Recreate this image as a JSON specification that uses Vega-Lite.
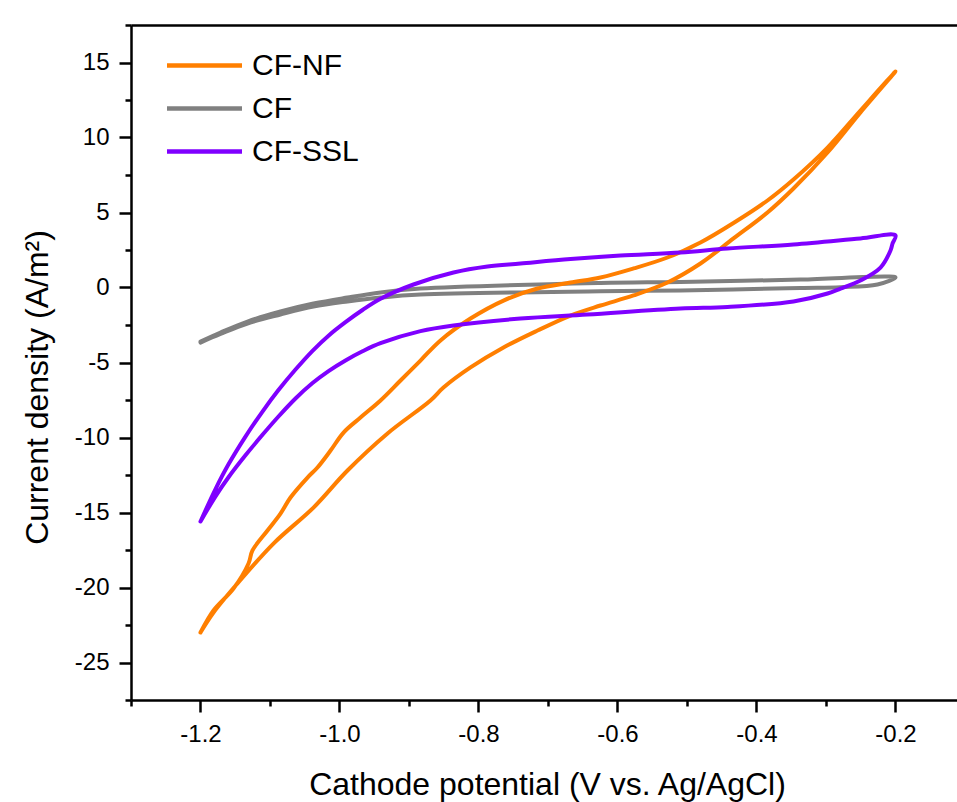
{
  "$schema": "https://vega.github.io/schema/vega-lite/v6.json",
  "width": 826,
  "height": 675,
  "autosize": {"type": "none"},
  "padding": {"left": 131, "top": 25, "right": 0, "bottom": 102},
  "background": "white",
  "config": {"view": {"stroke": null}, "font": "Liberation Sans"},
  "data": {
    "values": [
      {"s": "CF", "i": 0, "v": -1.2, "j": -3.6},
      {"s": "CF", "i": 1, "v": -1.1712, "j": -3.0},
      {"s": "CF", "i": 2, "v": -1.1324, "j": -2.27},
      {"s": "CF", "i": 3, "v": -1.0849, "j": -1.6},
      {"s": "CF", "i": 4, "v": -1.0374, "j": -1.07},
      {"s": "CF", "i": 5, "v": -0.9885, "j": -0.67},
      {"s": "CF", "i": 6, "v": -0.941, "j": -0.33},
      {"s": "CF", "i": 7, "v": -0.8835, "j": -0.07},
      {"s": "CF", "i": 8, "v": -0.6245, "j": 0.3},
      {"s": "CF", "i": 9, "v": -0.5094, "j": 0.37},
      {"s": "CF", "i": 10, "v": -0.3367, "j": 0.53},
      {"s": "CF", "i": 11, "v": -0.2115, "j": 0.73},
      {"s": "CF", "i": 12, "v": -0.2, "j": 0.67},
      {"s": "CF", "i": 13, "v": -0.2259, "j": 0.2},
      {"s": "CF", "i": 14, "v": -0.2791, "j": 0.02},
      {"s": "CF", "i": 15, "v": -0.3367, "j": -0.03},
      {"s": "CF", "i": 16, "v": -0.5094, "j": -0.2},
      {"s": "CF", "i": 17, "v": -0.6245, "j": -0.25},
      {"s": "CF", "i": 18, "v": -0.8835, "j": -0.47},
      {"s": "CF", "i": 19, "v": -0.941, "j": -0.67},
      {"s": "CF", "i": 20, "v": -0.9885, "j": -0.93},
      {"s": "CF", "i": 21, "v": -1.0374, "j": -1.27},
      {"s": "CF", "i": 22, "v": -1.0849, "j": -1.8},
      {"s": "CF", "i": 23, "v": -1.1324, "j": -2.4},
      {"s": "CF", "i": 24, "v": -1.1712, "j": -3.1},
      {"s": "CF", "i": 25, "v": -1.2, "j": -3.67},

      {"s": "CF-NF", "i": 0, "v": -1.2, "j": -23.0},
      {"s": "CF-NF", "i": 1, "v": -1.1813, "j": -21.53},
      {"s": "CF-NF", "i": 2, "v": -1.1525, "j": -20.07},
      {"s": "CF-NF", "i": 3, "v": -1.1309, "j": -18.4},
      {"s": "CF-NF", "i": 4, "v": -1.1252, "j": -17.53},
      {"s": "CF-NF", "i": 5, "v": -1.1036, "j": -16.2},
      {"s": "CF-NF", "i": 6, "v": -1.0849, "j": -15.07},
      {"s": "CF-NF", "i": 7, "v": -1.0705, "j": -14.0},
      {"s": "CF-NF", "i": 8, "v": -1.046, "j": -12.67},
      {"s": "CF-NF", "i": 9, "v": -1.0317, "j": -12.0},
      {"s": "CF-NF", "i": 10, "v": -1.0129, "j": -10.87},
      {"s": "CF-NF", "i": 11, "v": -0.9942, "j": -9.67},
      {"s": "CF-NF", "i": 12, "v": -0.9698, "j": -8.67},
      {"s": "CF-NF", "i": 13, "v": -0.941, "j": -7.53},
      {"s": "CF-NF", "i": 14, "v": -0.9122, "j": -6.2},
      {"s": "CF-NF", "i": 15, "v": -0.8835, "j": -4.87},
      {"s": "CF-NF", "i": 16, "v": -0.8547, "j": -3.53},
      {"s": "CF-NF", "i": 17, "v": -0.8115, "j": -2.07},
      {"s": "CF-NF", "i": 18, "v": -0.764, "j": -0.87},
      {"s": "CF-NF", "i": 19, "v": -0.7151, "j": -0.07},
      {"s": "CF-NF", "i": 20, "v": -0.6676, "j": 0.33},
      {"s": "CF-NF", "i": 21, "v": -0.6245, "j": 0.67},
      {"s": "CF-NF", "i": 22, "v": -0.577, "j": 1.27},
      {"s": "CF-NF", "i": 23, "v": -0.5281, "j": 2.0},
      {"s": "CF-NF", "i": 24, "v": -0.4806, "j": 3.0},
      {"s": "CF-NF", "i": 25, "v": -0.4331, "j": 4.3},
      {"s": "CF-NF", "i": 26, "v": -0.3842, "j": 5.8},
      {"s": "CF-NF", "i": 27, "v": -0.3468, "j": 7.2},
      {"s": "CF-NF", "i": 28, "v": -0.2978, "j": 9.33},
      {"s": "CF-NF", "i": 29, "v": -0.2504, "j": 11.8},
      {"s": "CF-NF", "i": 30, "v": -0.2, "j": 14.4},
      {"s": "CF-NF", "i": 31, "v": -0.2504, "j": 11.67},
      {"s": "CF-NF", "i": 32, "v": -0.2978, "j": 9.0},
      {"s": "CF-NF", "i": 33, "v": -0.3468, "j": 6.6},
      {"s": "CF-NF", "i": 34, "v": -0.3842, "j": 5.0},
      {"s": "CF-NF", "i": 35, "v": -0.4331, "j": 3.27},
      {"s": "CF-NF", "i": 36, "v": -0.4806, "j": 1.6},
      {"s": "CF-NF", "i": 37, "v": -0.5281, "j": 0.33},
      {"s": "CF-NF", "i": 38, "v": -0.577, "j": -0.53},
      {"s": "CF-NF", "i": 39, "v": -0.6245, "j": -1.2},
      {"s": "CF-NF", "i": 40, "v": -0.6676, "j": -1.87},
      {"s": "CF-NF", "i": 41, "v": -0.7151, "j": -2.87},
      {"s": "CF-NF", "i": 42, "v": -0.764, "j": -4.0},
      {"s": "CF-NF", "i": 43, "v": -0.8115, "j": -5.33},
      {"s": "CF-NF", "i": 44, "v": -0.8504, "j": -6.67},
      {"s": "CF-NF", "i": 45, "v": -0.8691, "j": -7.53},
      {"s": "CF-NF", "i": 46, "v": -0.9309, "j": -9.73},
      {"s": "CF-NF", "i": 47, "v": -0.9885, "j": -12.2},
      {"s": "CF-NF", "i": 48, "v": -1.0374, "j": -14.67},
      {"s": "CF-NF", "i": 49, "v": -1.095, "j": -17.07},
      {"s": "CF-NF", "i": 50, "v": -1.1468, "j": -19.73},
      {"s": "CF-NF", "i": 51, "v": -1.1813, "j": -21.67},
      {"s": "CF-NF", "i": 52, "v": -1.2, "j": -23.0},

      {"s": "CF-SSL", "i": 0, "v": -1.2, "j": -15.6},
      {"s": "CF-SSL", "i": 1, "v": -1.1784, "j": -13.44},
      {"s": "CF-SSL", "i": 2, "v": -1.1597, "j": -11.79},
      {"s": "CF-SSL", "i": 3, "v": -1.1353, "j": -9.94},
      {"s": "CF-SSL", "i": 4, "v": -1.1108, "j": -8.27},
      {"s": "CF-SSL", "i": 5, "v": -1.0878, "j": -6.84},
      {"s": "CF-SSL", "i": 6, "v": -1.0633, "j": -5.47},
      {"s": "CF-SSL", "i": 7, "v": -1.0388, "j": -4.22},
      {"s": "CF-SSL", "i": 8, "v": -1.0158, "j": -3.21},
      {"s": "CF-SSL", "i": 9, "v": -0.9914, "j": -2.31},
      {"s": "CF-SSL", "i": 10, "v": -0.9669, "j": -1.5},
      {"s": "CF-SSL", "i": 11, "v": -0.941, "j": -0.75},
      {"s": "CF-SSL", "i": 12, "v": -0.8935, "j": 0.2},
      {"s": "CF-SSL", "i": 13, "v": -0.836, "j": 1.0},
      {"s": "CF-SSL", "i": 14, "v": -0.7871, "j": 1.4},
      {"s": "CF-SSL", "i": 15, "v": -0.7396, "j": 1.6},
      {"s": "CF-SSL", "i": 16, "v": -0.6676, "j": 1.9},
      {"s": "CF-SSL", "i": 17, "v": -0.5957, "j": 2.13},
      {"s": "CF-SSL", "i": 18, "v": -0.5094, "j": 2.33},
      {"s": "CF-SSL", "i": 19, "v": -0.4417, "j": 2.6},
      {"s": "CF-SSL", "i": 20, "v": -0.3468, "j": 2.87},
      {"s": "CF-SSL", "i": 21, "v": -0.2504, "j": 3.27},
      {"s": "CF-SSL", "i": 22, "v": -0.2, "j": 3.47},
      {"s": "CF-SSL", "i": 23, "v": -0.2043, "j": 2.93},
      {"s": "CF-SSL", "i": 24, "v": -0.2072, "j": 2.47},
      {"s": "CF-SSL", "i": 25, "v": -0.2216, "j": 1.33},
      {"s": "CF-SSL", "i": 26, "v": -0.2504, "j": 0.47},
      {"s": "CF-SSL", "i": 27, "v": -0.2791, "j": -0.07},
      {"s": "CF-SSL", "i": 28, "v": -0.2978, "j": -0.4},
      {"s": "CF-SSL", "i": 29, "v": -0.3468, "j": -0.93},
      {"s": "CF-SSL", "i": 30, "v": -0.4417, "j": -1.3},
      {"s": "CF-SSL", "i": 31, "v": -0.5094, "j": -1.4},
      {"s": "CF-SSL", "i": 32, "v": -0.6432, "j": -1.8},
      {"s": "CF-SSL", "i": 33, "v": -0.7396, "j": -2.07},
      {"s": "CF-SSL", "i": 34, "v": -0.836, "j": -2.53},
      {"s": "CF-SSL", "i": 35, "v": -0.8835, "j": -2.91},
      {"s": "CF-SSL", "i": 36, "v": -0.941, "j": -3.71},
      {"s": "CF-SSL", "i": 37, "v": -0.9669, "j": -4.25},
      {"s": "CF-SSL", "i": 38, "v": -0.9914, "j": -4.86},
      {"s": "CF-SSL", "i": 39, "v": -1.0158, "j": -5.57},
      {"s": "CF-SSL", "i": 40, "v": -1.0388, "j": -6.37},
      {"s": "CF-SSL", "i": 41, "v": -1.0633, "j": -7.4},
      {"s": "CF-SSL", "i": 42, "v": -1.0878, "j": -8.6},
      {"s": "CF-SSL", "i": 43, "v": -1.1108, "j": -9.82},
      {"s": "CF-SSL", "i": 44, "v": -1.1353, "j": -11.19},
      {"s": "CF-SSL", "i": 45, "v": -1.1597, "j": -12.65},
      {"s": "CF-SSL", "i": 46, "v": -1.1784, "j": -13.92},
      {"s": "CF-SSL", "i": 47, "v": -1.2, "j": -15.6}
    ]
  },
  "resolve": {"axis": {"x": "independent", "y": "independent"}},
  "layer": [
    {
      "mark": {"type": "line", "strokeWidth": 4, "strokeCap": "round", "strokeJoin": "round", "interpolate": "catmull-rom"},
      "encoding": {
        "x": {
          "field": "v", "type": "quantitative",
          "scale": {"domain": [-1.3, -0.11151], "nice": false, "zero": false},
          "axis": {
            "orient": "bottom",
            "values": [-1.2, -1.0, -0.8, -0.6, -0.4, -0.2],
            "format": ".1f",
            "labelExpr": "replace(datum.label, '−', '-')",
            "grid": false,
            "domain": true, "domainColor": "black", "domainWidth": 2.5,
            "ticks": true, "tickSize": 12, "tickWidth": 2.5, "tickColor": "black",
            "labelFont": "Liberation Sans", "labelFontSize": 24, "labelColor": "black", "labelPadding": 10,
            "title": "Cathode potential (V vs. Ag/AgCl)",
            "titleFont": "Liberation Sans", "titleFontSize": 32, "titleFontWeight": "normal", "titleColor": "black",
            "titleX": 416, "titleY": 94, "titleBaseline": "alphabetic", "titleAlign": "center"
          }
        },
        "y": {
          "field": "j", "type": "quantitative",
          "scale": {"domain": [-27.5, 17.5], "nice": false, "zero": false},
          "axis": {
            "orient": "left",
            "values": [-25, -20, -15, -10, -5, 0, 5, 10, 15],
            "format": "d",
            "labelExpr": "replace(datum.label, '−', '-')",
            "grid": false,
            "domain": true, "domainColor": "black", "domainWidth": 2.5,
            "ticks": true, "tickSize": 12, "tickWidth": 2.5, "tickColor": "black",
            "labelFont": "Liberation Sans", "labelFontSize": 24, "labelColor": "black", "labelPadding": 10,
            "title": "Current density (A/m²)",
            "titleFont": "Liberation Sans", "titleFontSize": 32, "titleFontWeight": "normal", "titleColor": "black",
            "titleAngle": -90, "titleX": -84, "titleY": 362, "titleBaseline": "alphabetic", "titleAlign": "center"
          }
        },
        "color": {
          "field": "s", "type": "nominal",
          "scale": {"domain": ["CF-NF", "CF", "CF-SSL"], "range": ["#FF7F00", "#808080", "#7F00FF"]},
          "legend": {
            "orient": "none", "legendX": 56, "legendY": 23, "padding": 0,
            "title": null,
            "symbolType": "M-2.5,0H2.5", "symbolSize": 900, "symbolStrokeWidth": 4.5,
            "labelFont": "Liberation Sans", "labelFontSize": 30, "labelColor": "black",
            "labelOffset": 30, "rowPadding": 10
          }
        },
        "order": {"field": "i", "type": "quantitative"}
      }
    },
    {
      "mark": {"type": "point", "opacity": 0},
      "encoding": {
        "x": {
          "field": "v", "type": "quantitative",
          "scale": {"domain": [-1.3, -0.11151], "nice": false, "zero": false},
          "axis": {
            "orient": "bottom", "values": [-1.3, -1.1, -0.9, -0.7, -0.5, -0.3],
            "labels": false, "domain": false, "grid": false, "title": null,
            "tickSize": 6, "tickWidth": 2.5, "tickColor": "black"
          }
        },
        "y": {
          "field": "j", "type": "quantitative",
          "scale": {"domain": [-27.5, 17.5], "nice": false, "zero": false},
          "axis": {
            "orient": "left", "values": [-27.5, -22.5, -17.5, -12.5, -7.5, -2.5, 2.5, 7.5, 12.5, 17.5],
            "labels": false, "domain": false, "grid": false, "title": null,
            "tickSize": 6, "tickWidth": 2.5, "tickColor": "black"
          }
        }
      }
    },
    {
      "mark": {"type": "point", "opacity": 0},
      "encoding": {
        "x": {
          "field": "v", "type": "quantitative",
          "scale": {"domain": [-1.3, -0.11151], "nice": false, "zero": false},
          "axis": {
            "orient": "top", "labels": false, "ticks": false, "grid": false, "title": null,
            "domain": true, "domainColor": "black", "domainWidth": 2.5
          }
        },
        "y": {
          "field": "j", "type": "quantitative",
          "scale": {"domain": [-27.5, 17.5], "nice": false, "zero": false},
          "axis": null
        }
      }
    }
  ]
}
